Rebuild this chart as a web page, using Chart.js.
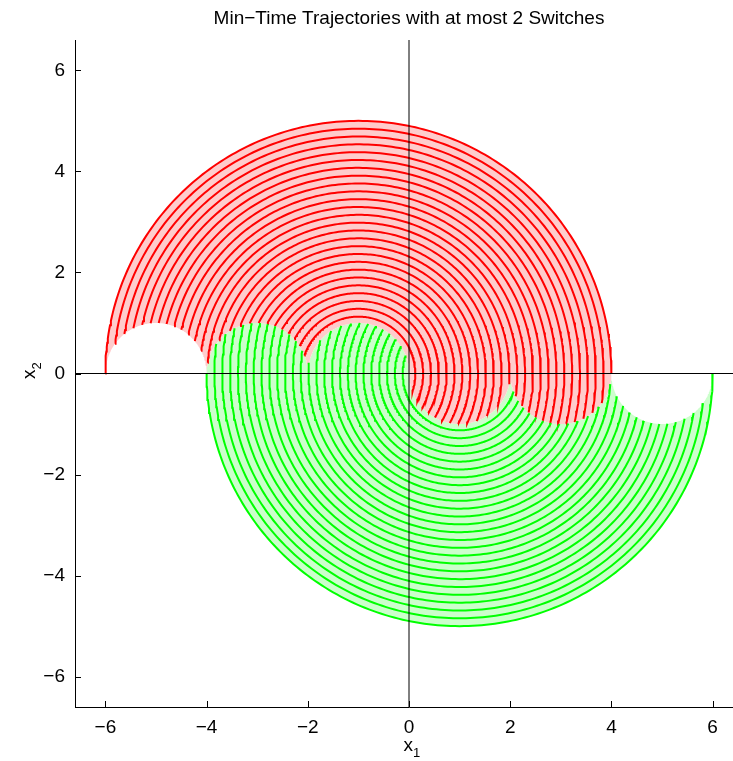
<!DOCTYPE html>
<html>
<head>
<meta charset="utf-8">
<title>Min-Time Trajectories</title>
<script src="https://cdn.jsdelivr.net/npm/chart.js@4.4.1/dist/chart.umd.min.js"></script>
<style>
  html, body { margin:0; padding:0; overflow:hidden; background:#fff; }
  canvas { display:block; }
</style>
</head>
<body>
<canvas id="chart" width="818" height="761" style="width:818px;height:761px"></canvas>
<script>
// Min-time trajectories of x1' = x2, x2' = -x1 + u, |u| <= 1
// red: u = -1 arcs (centre -1), green: u = +1 arcs (centre +1)

const $ = id => document.getElementById(id);
const FONT = "'Liberation Sans', Arial, Helvetica, sans-serif";

const xTicks = [-6, -4, -2, 0, 2, 4, 6];
const yTicks = [-6, -4, -2, 0, 2, 4, 6];
const xRange = [-6.6, 6.6];
const yRange = [-6.6, 6.6];

// centres of the two families of circles on the x1 axis
const redCentre = -1;
const greenCentre = 1;

// radii of the drawn trajectory arcs, outermost first
const radii = [5.00, 4.845, 4.69, 4.535, 4.38, 4.225, 4.07, 3.915, 3.76, 3.605,
               3.45, 3.295, 3.14, 2.985, 2.83, 2.675, 2.52, 2.365, 2.21, 2.055,
               1.90, 1.745, 1.59, 1.435, 1.28, 1.125];

// switching curve: unit half circles centred on the x1 axis
const bumpCentres = [-5, -3, -1, 1, 3, 5];
const bumpRadius = 1;

// outline of the red region: [centre, radius, start deg, end deg]
const redOutline = [[-1, 5, 180, 0], [3, 1, 0, -180], [1, 1, 0, -180],
                    [-1, 1, 0, 180], [-3, 1, 0, 180], [-5, 1, 0, 180]];

const redLine = '#ff0000', greenLine = '#00ff00';
const redFill = '#ffcccc', greenFill = '#ccffcc';

function arcPts(c, r, a0, a1){
  const n = Math.max(12, Math.ceil(Math.abs(a1 - a0) / (Math.PI/180)));
  const pts = [];
  for(let i=0;i<=n;i++){
    const a = a0 + (a1 - a0) * i / n;
    pts.push({x: c + r*Math.cos(a), y: r*Math.sin(a)});
  }
  return pts;
}

// angle (seen from c1) where circle (c1,r1) meets circle (c2,r2)
function meet(c1, r1, c2, r2, up){
  const d = c2 - c1;
  const t = (d*d + r1*r1 - r2*r2) / (2*d);
  const h = Math.sqrt(Math.max(0, r1*r1 - t*t));
  return Math.atan2(up ? h : -h, t);
}

// red arc of radius r, from left switching half circle to right one
function redArc(r){
  const c = redCentre;
  const lb = bumpCentres.find(b => Math.abs(b - (c - r)) <= bumpRadius);
  const rb = bumpCentres.find(b => Math.abs(b - (c + r)) <= bumpRadius);
  const a0 = meet(c, r, lb, bumpRadius, true);
  const a1 = meet(c, r, rb, bumpRadius, false);
  return arcPts(c, r, a0, a1);
}
// green is the red picture turned half a turn about the origin
const flip = pts => pts.map(p => ({x: -p.x, y: -p.y}));

function outlinePts(list){
  let pts = [];
  list.forEach(([c, r, d0, d1]) => { pts = pts.concat(arcPts(c, r, d0*Math.PI/180, d1*Math.PI/180)); });
  return pts;
}

const datasets = [];
// axis lines through the origin
datasets.push({data:[{x:xRange[0],y:0},{x:xRange[1],y:0}], borderColor:'#000', borderWidth:1, order:1});
datasets.push({data:[{x:0,y:yRange[0]},{x:0,y:yRange[1]}], borderColor:'#000', borderWidth:1, order:1});
// region fills
const redShape = outlinePts(redOutline);
datasets.push({data:redShape, fill:'shape', backgroundColor:redFill, borderColor:'rgba(0,0,0,0)', borderWidth:0, order:10});
datasets.push({data:flip(redShape), fill:'shape', backgroundColor:greenFill, borderColor:'rgba(0,0,0,0)', borderWidth:0, order:10});
// trajectories
radii.forEach(r => {
  const pts = redArc(r);
  datasets.push({data:pts, borderColor:redLine, borderWidth:2, order:3});
  datasets.push({data:flip(pts), borderColor:greenLine, borderWidth:2, order:2});
});
datasets.forEach(d => { d.showLine = true; d.pointRadius = 0; d.pointHoverRadius = 0; d.tension = 0; if(!d.fill) d.fill = false; });

const fmt = v => (v < 0 ? '\u2212' + Math.abs(v) : '' + v);

// MATLAB style: ticks inside the box, subscripted axis labels
const matlabAxes = {
  id:'matlabAxes',
  afterDraw(chart){
    const {ctx, chartArea:a, scales:{x, y}} = chart;
    ctx.save();
    ctx.strokeStyle = '#000'; ctx.lineWidth = 1;
    ctx.beginPath();
    xTicks.forEach(v => { const p = Math.round(x.getPixelForValue(v)) + 0.5; ctx.moveTo(p, a.bottom); ctx.lineTo(p, a.bottom - 6); });
    yTicks.forEach(v => { const p = Math.round(y.getPixelForValue(v)) + 0.5; ctx.moveTo(a.left, p); ctx.lineTo(a.left + 6, p); });
    ctx.stroke();

    ctx.fillStyle = '#000';
    ctx.textBaseline = 'alphabetic';
    const cx = (a.left + a.right) / 2;
    ctx.font = '19px ' + FONT; ctx.textAlign = 'right';
    ctx.fillText('x', cx + 4, 751);
    ctx.font = '13px ' + FONT; ctx.textAlign = 'left';
    ctx.fillText('1', cx + 4, 757);

    const cy = (a.top + a.bottom) / 2;
    ctx.translate(35, cy); ctx.rotate(-Math.PI/2);
    ctx.font = '19px ' + FONT; ctx.textAlign = 'right';
    ctx.fillText('x', 4, 0);
    ctx.font = '13px ' + FONT; ctx.textAlign = 'left';
    ctx.fillText('2', 4, 6);
    ctx.restore();
  }
};

new Chart($('chart').getContext('2d'), {
  type:'scatter',
  data:{datasets},
  options:{
    responsive:false,
    devicePixelRatio:1,
    animation:false,
    events:[],
    layout:{padding:0},
    plugins:{
      legend:{display:false},
      tooltip:{enabled:false},
      title:{display:true, text:'Min\u2212Time Trajectories with at most 2 Switches', color:'#000',
             font:{family:FONT, size:19, weight:'normal'}, padding:{top:7, bottom:10.2}}
    },
    scales:{
      x:{type:'linear', min:xRange[0], max:xRange[1],
         grid:{display:false, drawTicks:false},
         border:{display:true, color:'#000', width:1},
         ticks:{color:'#000', padding:9, font:{family:FONT, size:19}, callback:fmt},
         afterBuildTicks: s => { s.ticks = xTicks.map(v => ({value:v})); },
         afterFit: s => { s.height = 54; }},
      y:{type:'linear', min:yRange[0], max:yRange[1],
         grid:{display:false, drawTicks:false},
         border:{display:true, color:'#000', width:1},
         ticks:{color:'#000', padding:10, font:{family:FONT, size:19}, callback:fmt},
         afterBuildTicks: s => { s.ticks = yTicks.map(v => ({value:v})); },
         afterFit: s => { s.width = 75; }},
      // empty right margin, keeps the plot box symmetric in the figure
      yRight:{type:'linear', position:'right', min:yRange[0], max:yRange[1],
         grid:{display:false, drawTicks:false}, border:{display:false}, ticks:{display:false},
         afterFit: s => { s.width = 75; }}
    }
  },
  plugins:[matlabAxes]
});
</script>
</body>
</html>
